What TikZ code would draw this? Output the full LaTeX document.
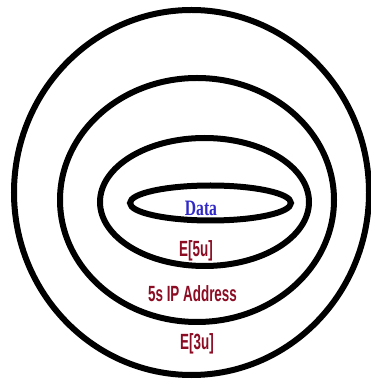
\documentclass[tikz,border=0pt]{standalone}
\usepackage{fontspec}
\setmainfont{Liberation Serif}
\setsansfont{Liberation Sans}
\usepackage{tikz}
\usetikzlibrary{positioning}

\definecolor{dataBlue}{RGB}{48,40,200}
\definecolor{layerRed}{RGB}{140,12,36}

\begin{document}
\begin{tikzpicture}[
    x=1pt, y=1pt,
    ring/.style={draw=black, line width=6pt},
    layerlabel/.style={font=\sffamily\bfseries\fontsize{22}{22}\selectfont, text=layerRed, anchor=base, inner sep=0pt, transform shape, xscale=0.61},
    datalabel/.style={font=\rmfamily\bfseries\fontsize{22}{22}\selectfont, text=dataBlue, anchor=base, inner sep=0pt, transform shape, xscale=0.71},
]
  \useasboundingbox (0,0) rectangle (371,383);
  \fill[white] (0,0) rectangle (371,383);

  % nested layers, outside in
  \draw[ring] (191.5,190.5) ellipse [x radius=177.5, y radius=182.5];
  \draw[ring] (197,183) ellipse [x radius=137, y radius=122];
  \draw[ring] (204.5,181) ellipse [x radius=104.5, y radius=64];
  \draw[ring] (210.5,180) ellipse [x radius=80.5, y radius=17.5];

  \node[datalabel] (data) at (201,167) {Data};
  \node[layerlabel] (e5u) at (196,126) {E[5u]};
  \node[layerlabel] (ipaddr) at (192.5,81) {5s IP Address};
  \node[layerlabel] (e3u) at (197,33) {E[3u]};
\end{tikzpicture}
\end{document}
